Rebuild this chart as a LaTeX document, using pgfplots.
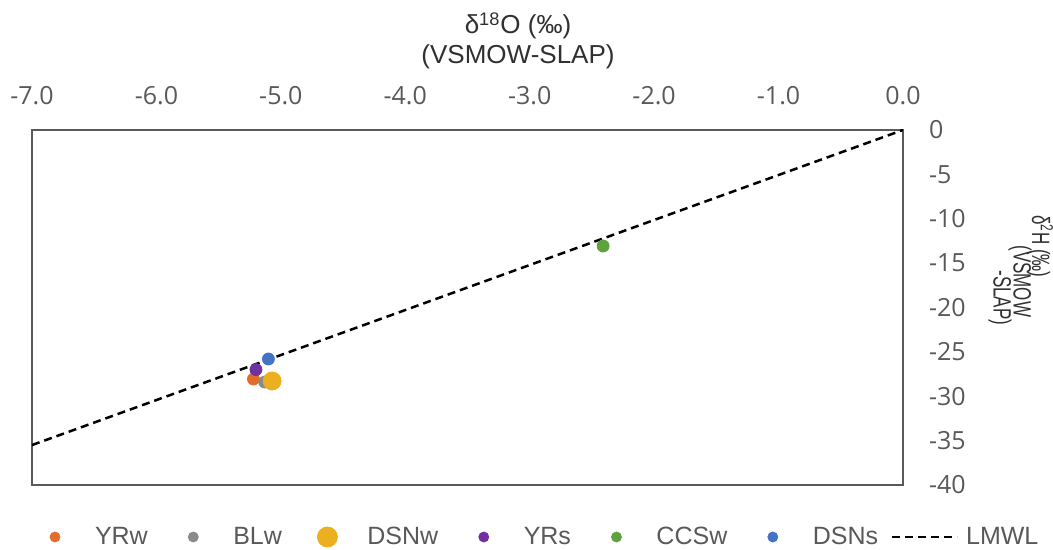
\documentclass[border=0pt]{standalone}
\usepackage{fontspec}
\setmainfont{Liberation Sans}
\newfontfamily\tickfont{Open Sans}
\usepackage{graphicx}
\usepackage{pgfplots}
\pgfplotsset{compat=1.18}
\definecolor{cOrange}{HTML}{E46C2A}
\definecolor{cGray}{HTML}{8A8A8A}
\definecolor{cGold}{HTML}{EBAF1F}
\definecolor{cPurple}{HTML}{7030A0}
\definecolor{cGreen}{HTML}{5EA23E}
\definecolor{cBlue}{HTML}{4472C4}
\definecolor{tickgray}{HTML}{595959}
\definecolor{axisgray}{HTML}{5A5A5A}
\definecolor{titlec}{HTML}{303030}
\pgfplotsset{
  mlegend/.style={legend image code/.code={\path[draw=none,fill=none] (0pt,-5pt) (32.5pt,5pt);\draw[mark repeat=2,mark phase=2,##1,mark size=#1] plot coordinates {(0pt,0pt)(16.25pt,0pt)(32.5pt,0pt)};}},
  llegend/.style={legend image code/.code={\path[draw=none,fill=none] (0pt,-5pt) (32.5pt,5pt);\draw[##1] (0pt,0pt) -- (32.5pt,0pt);}},
}
\begin{document}
\begin{tikzpicture}
\begin{axis}[
  at={(0pt,0pt)}, anchor=south west,
  scale only axis, width=435.5pt, height=177.5pt,
  xmin=-7, xmax=0, ymin=-40, ymax=0,
  xtick={-7,-6,-5,-4,-3,-2,-1,0},
  ytick={-40,-35,-30,-25,-20,-15,-10,-5,0},
  xticklabel pos=upper, yticklabel pos=right,
  major tick length=0pt,
  axis line style={draw=axisgray, line width=1pt},
  x tick label style={font=\fontsize{12.5}{15}\selectfont\tickfont, text=tickgray, yshift=9pt,
    /pgf/number format/.cd, fixed, fixed zerofill, precision=1, assume math mode=true},
  y tick label style={font=\fontsize{12.5}{15}\selectfont\tickfont, text=tickgray, xshift=9.5pt,
    /pgf/number format/.cd, assume math mode=true},
  legend columns=7,
  legend style={at={(-0.0109,-0.1465)}, anchor=west, draw=none, fill=none,
    inner sep=0pt, outer sep=0pt,
    font=\fontsize{12.5}{15}\selectfont, text=tickgray,
    nodes={inner sep=0pt},
    /tikz/every odd column/.append style={column sep=3.75pt},
    /tikz/every even column/.append style={column sep=6.5pt}},
]
\addplot[only marks, mark=*, mark size=3pt, color=cOrange, mlegend=2.5pt] coordinates {(-5.22,-28.06)};
\addlegendentry{YRw}
\addplot[only marks, mark=*, mark size=3pt, color=cGray, mlegend=2.5pt] coordinates {(-5.13,-28.4)};
\addlegendentry{BLw}
\addplot[only marks, mark=*, mark size=4.5pt, color=cGold, mlegend=5pt] coordinates {(-5.07,-28.28)};
\addlegendentry{DSNw}
\addplot[only marks, mark=*, mark size=3pt, color=cPurple, mlegend=2.5pt] coordinates {(-5.20,-27.0)};
\addlegendentry{YRs}
\addplot[only marks, mark=*, mark size=3pt, color=cGreen, mlegend=2.5pt] coordinates {(-2.41,-13.07)};
\addlegendentry{CCSw}
\addplot[only marks, mark=*, mark size=3pt, color=cBlue, mlegend=2.5pt] coordinates {(-5.10,-25.8)};
\addlegendentry{DSNs}
\addplot[black, line width=1.25pt, dash pattern=on 4pt off 2.5pt, llegend] coordinates {(-7,-35.5) (0,0)};
\addlegendentry{LMWL}
\end{axis}
\node[anchor=base, text=titlec, font=\fontsize{13}{15}\selectfont] at (243pt,225.5pt) {δ\textsuperscript{18}O (‰)};
\node[anchor=base, text=titlec, font=\fontsize{13}{15}\selectfont] at (243pt,210.5pt) {(VSMOW-SLAP)};
\node[rotate=-90, anchor=west, text=titlec, font=\fontsize{12.5}{14}\selectfont, inner sep=0pt] at (504pt,135pt) {\scalebox{0.68}[1]{δ\textsuperscript{2}H (‰)}};
\node[rotate=-90, anchor=west, text=titlec, font=\fontsize{12.5}{14}\selectfont, inner sep=0pt] at (494pt,120pt) {\scalebox{0.68}[1]{(VSMOW}};
\node[rotate=-90, anchor=west, text=titlec, font=\fontsize{12.5}{14}\selectfont, inner sep=0pt] at (484pt,107.5pt) {\scalebox{0.68}[1]{-SLAP)}};
\pgfresetboundingbox
\useasboundingbox (-16pt,-32.5pt) rectangle (510.5pt,242.5pt);
\end{tikzpicture}
\end{document}
